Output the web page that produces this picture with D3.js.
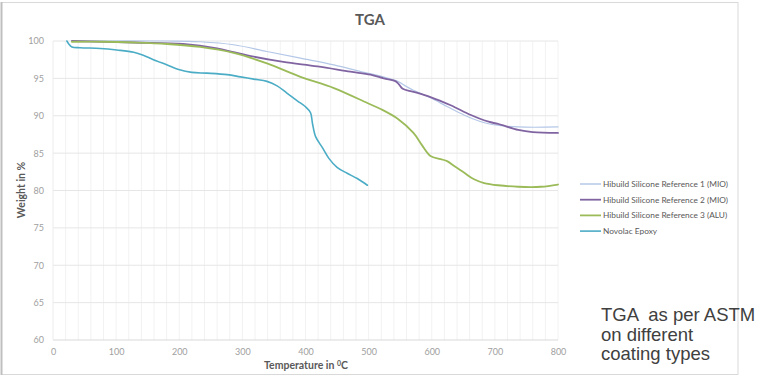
<!DOCTYPE html>
<html>
<head>
<meta charset="utf-8">
<script src="https://cdn.jsdelivr.net/npm/d3@7"></script>
<style>
  body { margin: 0; background: #fff; }
  svg { display: block; }
</style>
</head>
<body>
<svg id="chart" width="758" height="376"></svg>
<script>
const ref1 = [[30,100],[181,100],[233,99.9],[286,99.5],[339,98.6],[392,97.7],[445,96.8],[498,95.7],[519,95.3],[546,94.6],[560,93.9],[571,93.4],[598,92.4],[625,91.2],[651,90.1],[678,89.2],[698,88.8],[737,88.5],[800,88.5]];
const ref2 = [[30,100],[128,99.8],[206,99.6],[260,99.0],[286,98.5],[318,97.9],[365,97.2],[419,96.6],[471,95.9],[503,95.5],[524,95.0],[543,94.6],[548,94.2],[554,93.6],[571,93.2],[598,92.5],[630,91.4],[662,90.1],[690,89.2],[705,88.9],[737,88.1],[760,87.8],[800,87.7]];
const ref3 = [[30,99.9],[80,99.9],[128,99.8],[181,99.6],[233,99.2],[286,98.4],[339,97.0],[392,95.2],[445,93.7],[498,91.7],[519,90.9],[546,89.6],[571,87.7],[585,86.0],[598,84.6],[614,84.2],[625,83.9],[635,83.3],[651,82.4],[667,81.5],[683,81.0],[705,80.7],[737,80.5],[773,80.5],[800,80.8]];
const epoxy = [[22,100],[25,99.6],[30,99.2],[43,99.1],[75,99.0],[101,98.8],[128,98.5],[143,98.1],[159,97.5],[181,96.8],[199,96.2],[220,95.8],[244,95.7],[276,95.5],[297,95.2],[318,94.9],[339,94.6],[355,94.0],[371,93.0],[387,92.0],[400,91.2],[408,90.4],[411,89.0],[416,87.2],[427,85.7],[437,84.3],[450,83.1],[466,82.3],[482,81.6],[498,80.7]];

const seriesNames = ["Hibuild Silicone Reference 1 (MIO)", "Hibuild Silicone Reference 2 (MIO)", "Hibuild Silicone Reference 3 (ALU)", "Novolac Epoxy"];
const xTicks = [0, 100, 200, 300, 400, 500, 600, 700, 800];
const yTicks = [60, 65, 70, 75, 80, 85, 90, 95, 100];
const noteLines = ["TGA  as per ASTM", "on different", "coating types"];

const series = [
  { name: seriesNames[0], data: ref1, color: "#b4c7e7", width: 1.2 },
  { name: seriesNames[1], data: ref2, color: "#8064a2", width: 1.8 },
  { name: seriesNames[2], data: ref3, color: "#9bbb59", width: 1.8 },
  { name: seriesNames[3], data: epoxy, color: "#4bacc6", width: 1.6 }
];

const svg = d3.select("#chart");
const margin = { left: 53, top: 41, right: 200, bottom: 36 };
const width = 558 - margin.left, height = 340 - margin.top;

// cadre du graphique
svg.append("rect")
  .attr("x", 1.5).attr("y", 2.5)
  .attr("width", 736.5).attr("height", 372)
  .attr("fill", "none").attr("stroke", "#d9d9d9");
svg.append("line")
  .attr("x1", 1.5).attr("x2", 1.5).attr("y1", 2).attr("y2", 375)
  .attr("stroke", "#bfbfbf").attr("stroke-width", 2);

const g = svg.append("g")
  .attr("transform", "translate(" + margin.left + "," + margin.top + ")");

const x = d3.scaleLinear().domain([0, 800]).range([0, width]);
const y = d3.scaleLinear().domain([60, 100]).range([height, 0]);

// grille verticale (tous les 20 degres)
g.append("g")
  .selectAll("line")
  .data(d3.range(20, 801, 20))
  .join("line")
  .attr("x1", d => x(d)).attr("x2", d => x(d))
  .attr("y1", 0).attr("y2", height)
  .attr("stroke", "#f2f2f2").attr("stroke-width", 1);

// grille horizontale
g.append("g")
  .selectAll("line")
  .data(yTicks)
  .join("line")
  .attr("x1", 0).attr("x2", width)
  .attr("y1", d => y(d)).attr("y2", d => y(d))
  .attr("stroke", d => d === 60 ? "#d9d9d9" : "#e6e6e6").attr("stroke-width", 1);

g.append("line")
  .attr("x1", 0).attr("x2", 0).attr("y1", 0).attr("y2", height)
  .attr("stroke", "#ececec");

// axes
const xAxis = g.append("g")
  .attr("transform", "translate(0," + height + ")")
  .call(d3.axisBottom(x).tickValues(xTicks).tickSize(0).tickPadding(9));
xAxis.select(".domain").remove();

const yAxis = g.append("g")
  .call(d3.axisLeft(y).tickValues(yTicks).tickSize(0).tickPadding(9));
yAxis.select(".domain").remove();

g.selectAll(".tick text")
  .attr("fill", "#a0a0a0")
  .style("font-family", "Lato, 'Open Sans', sans-serif")
  .style("font-size", "9px");

// courbes
const line = d3.line()
  .x(d => x(d[0]))
  .y(d => y(d[1]))
  .curve(d3.curveCatmullRom.alpha(0.5));

g.selectAll(".serie")
  .data(series)
  .join("path")
  .attr("class", "serie")
  .attr("fill", "none")
  .attr("stroke", d => d.color)
  .attr("stroke-width", d => d.width)
  .attr("stroke-linejoin", "round")
  .attr("stroke-linecap", "round")
  .attr("d", d => line(d.data));

// titre et libelles
svg.append("text")
  .attr("x", 370).attr("y", 25)
  .attr("text-anchor", "middle")
  .attr("fill", "#595959")
  .style("font-family", "Lato, 'Open Sans', sans-serif")
  .style("font-weight", "bold")
  .style("font-size", "15px")
  .text("TGA");

svg.append("text")
  .attr("transform", "translate(25,190) rotate(-90)")
  .attr("text-anchor", "middle")
  .attr("fill", "#595959")
  .style("font-family", "Lato, 'Open Sans', sans-serif")
  .style("font-weight", "bold")
  .style("font-size", "10.5px")
  .text("Weight in %");

const xl = svg.append("text")
  .attr("x", 306).attr("y", 369)
  .attr("text-anchor", "middle")
  .attr("fill", "#595959")
  .style("font-family", "Lato, 'Open Sans', sans-serif")
  .style("font-weight", "bold")
  .style("font-size", "10.5px");
xl.append("tspan").text("Temperature in ");
xl.append("tspan").attr("dy", -3).style("font-size", "7px").text("0");
xl.append("tspan").attr("dy", 3).text("C");

// legende
const leg = svg.append("g").attr("transform", "translate(580,184)");
const items = leg.selectAll("g")
  .data(series)
  .join("g")
  .attr("transform", (d, i) => "translate(0," + (i * 15.7) + ")");
items.append("line")
  .attr("x1", 0).attr("x2", 21)
  .attr("stroke", d => d.color)
  .attr("stroke-width", d => Math.max(d.width, 1.5));
items.append("text")
  .attr("x", 23).attr("y", 3)
  .attr("fill", "#595959")
  .style("font-family", "Lato, 'Open Sans', sans-serif")
  .style("font-size", "8.3px")
  .text(d => d.name);

// note
svg.append("g")
  .selectAll("text")
  .data(noteLines)
  .join("text")
  .attr("x", 601)
  .attr("y", (d, i) => 321 + i * 19.5)
  .attr("fill", "#404040")
  .style("white-space", "pre")
  .style("font-family", "'Liberation Sans', Arial, sans-serif")
  .style("font-size", "18.5px")
  .text(d => d);
</script>
</body>
</html>
